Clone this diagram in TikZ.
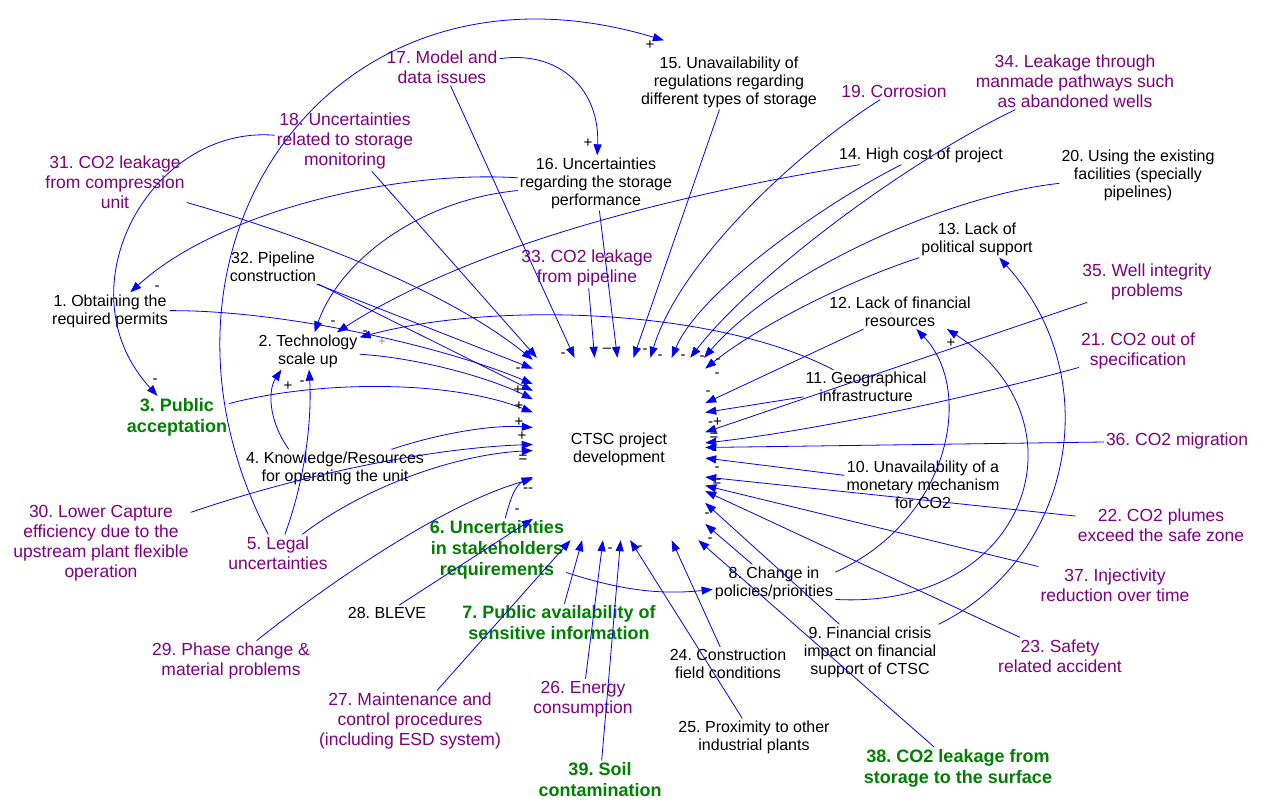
\documentclass[tikz,border=0pt]{standalone}
\usepackage{fontspec}
\setmainfont{Liberation Sans}
\frenchspacing
\usetikzlibrary{arrows.meta}
\definecolor{vpurple}{RGB}{128,0,128}
\definecolor{vgreen}{RGB}{0,128,0}
\tikzset{
  blk/.style={align=center,inner sep=2pt,font=\fontsize{16}{18}\selectfont},
  pur/.style={align=center,inner sep=2pt,text=vpurple,font=\fontsize{17.5}{20}\selectfont},
  grn/.style={align=center,inner sep=2pt,text=vgreen,font=\fontsize{18}{21}\selectfont\bfseries},
  sgn/.style={inner sep=0pt,font=\fontsize{15}{15}\selectfont},
  lnk/.style={draw=blue,line width=0.8pt,->},
  >={Triangle[length=11pt,width=8pt]}
}
\begin{document}
\begin{tikzpicture}[x=1pt,y=-1pt]
\useasboundingbox (0,0) rectangle (1263,802);

% core variable
\node[blk,minimum width=172pt,minimum height=182pt] (ctr) at (619,449) {CTSC project\\development};

% factors
\node[blk] (n1) at (110,311) {1. Obtaining the\\required permits};
\node[blk] (n2) at (308,351) {2. Technology\\scale up};
\node[grn] (n3) at (177,417) {3. Public\\acceptation};
\node[blk] (n4) at (335,468) {4. Knowledge/Resources\\for operating the unit};
\node[pur] (n5) at (278,553) {5. Legal\\uncertainties};
\node[grn] (n6) at (497,550) {6. Uncertainties\\in stakeholders\\requirements};
\node[grn] (n7) at (559,623) {7. Public availability of\\sensitive information};
\node[blk] (n8) at (774,583) {8. Change in\\policies/priorities};
\node[blk] (n9) at (870,652) {9. Financial crisis\\impact on financial\\support of CTSC};
\node[blk] (n10) at (923,485) {10. Unavailability of a\\monetary mechanism\\for CO2};
\node[blk] (n11) at (866,387) {11. Geographical\\infrastructure};
\node[blk] (n12) at (900,312) {12. Lack of financial\\resources};
\node[blk] (n13) at (977,239) {13. Lack of\\political support};
\node[blk] (n14) at (921,155) {14. High cost of project};
\node[blk] (n15) at (729,82) {15. Unavailability of\\regulations regarding\\different types of storage};
\node[blk] (n16) at (596,183) {16. Uncertainties\\regarding the storage\\performance};
\node[pur] (n17) at (442,67) {17. Model and\\data issues};
\node[pur] (n18) at (345,141) {18. Uncertainties\\related to storage\\monitoring};
\node[pur] (n19) at (894,91) {19. Corrosion};
\node[blk] (n20) at (1138,175) {20. Using the existing\\facilities (specially\\pipelines)};
\node[pur] (n21) at (1138,351) {21. CO2 out of\\specification};
\node[pur] (n22) at (1161,525) {22. CO2 plumes\\exceed the safe zone};
\node[pur] (n23) at (1060,656) {23. Safety\\related accident};
\node[blk] (n24) at (728,664) {24. Construction\\field conditions};
\node[blk] (n25) at (754,737) {25. Proximity to other\\industrial plants};
\node[pur] (n26) at (583,699) {26. Energy\\consumption};
\node[pur] (n27) at (410,721) {27. Maintenance and\\control procedures\\(including ESD system)};
\node[blk] (n28) at (387,613) {28. BLEVE};
\node[pur] (n29) at (231,661) {29. Phase change \&\\material problems};
\node[pur] (n30) at (101,543) {30. Lower Capture\\efficiency due to the\\upstream plant flexible\\operation};
\node[pur] (n31) at (115,182) {31. CO2 leakage\\from compression\\unit};
\node[blk] (n32) at (273,267) {32. Pipeline\\construction};
\node[pur] (n33) at (587,268) {33. CO2 leakage\\from pipeline};
\node[pur] (n34) at (1075,81) {34. Leakage through\\manmade pathways such\\as abandoned wells};
\node[pur] (n35) at (1147,282) {35. Well integrity\\problems};
\node[pur] (n36) at (1177,441) {36. CO2 migration};
\node[pur] (n37) at (1115,585) {37. Injectivity\\reduction over time};
\node[grn] (n38) at (958,768) {38. CO2 leakage from\\storage to the surface};
\node[grn] (n39) at (600,780) {39. Soil\\contamination};

% straight links into the core
\foreach \s/\a in {n18/132,n17/116,n33/105,n16/91,n15/81,n12/28,n11/23,n35/11,n36/1,n10/-6,n22/-18,n37/-23,n23/-26,n9/-32,n8/-41,n38/-49,n24/-60,n25/-83,n39/-89,n26/-100,n7/-112,n27/-118,n28/219} {
  \draw[lnk] (\s) -- (ctr.\a);
}
\draw[lnk] (n32) -- (ctr.137);
\draw[lnk] (n32.south east) -- (ctr.146);

% curved links into the core
\draw[lnk] (n19) .. controls (800,150) and (680,260) .. (ctr.71);
\draw[lnk] (n14) .. controls (830,200) and (700,290) .. (ctr.60);
\draw[lnk] (n34) .. controls (900,165) and (750,280) .. (ctr.52);
\draw[lnk] (n20) .. controls (950,195) and (780,270) .. (ctr.47);
\draw[lnk] (n13) .. controls (850,280) and (760,325) .. (ctr.43);
\draw[lnk] (n21) .. controls (980,395) and (820,430) .. (ctr.4);
\draw[lnk] (n31) .. controls (290,232) and (440,285) .. (ctr.134);
\draw[lnk] (n1) .. controls (280,310) and (440,345) .. (ctr.143);
\draw[lnk] (n2) .. controls (420,358) and (490,378) .. (ctr.150);
\draw[lnk] (n3) .. controls (320,380) and (450,380) .. (ctr.157);
\draw[lnk] (n4) .. controls (450,430) and (500,425) .. (ctr.166);
\draw[lnk] (n30) .. controls (300,475) and (430,448) .. (ctr.177);
\draw[lnk] (n5) .. controls (360,490) and (450,455) .. (ctr.181);
\draw[lnk] (n29) .. controls (320,590) and (440,505) .. (ctr.199);
\draw[lnk] (n6) .. controls (510,500) and (515,485) .. (ctr.198);

% links between factors
\draw[lnk] (n16) .. controls (400,170) and (220,210) .. (n1);
\draw[lnk] (n16) .. controls (420,200) and (340,260) .. (n2);
\draw[lnk] (n14) .. controls (700,190) and (480,240) .. (n2);
\draw[lnk] (n11) .. controls (720,310) and (500,300) .. (n2);
\draw[lnk] (n4.158) .. controls (268,420) and (268,390) .. (n2.-145);
\draw[lnk] (n5) .. controls (305,480) and (312,420) .. (n2);
\draw[lnk] (n18) .. controls (150,125) and (60,290) .. (n3);
\draw[lnk] (n17) .. controls (560,50) and (600,90) .. (n16);
\draw[lnk] (n5) .. controls (120,250) and (330,-60) .. ([xshift=25pt,yshift=14pt]n15.north west);
\draw[lnk] (n6) .. controls (620,590) and (660,595) .. (n8);
\draw[lnk] (n8.10) .. controls (950,520) and (975,390) .. (n12);
\draw[lnk] (n8.-15) .. controls (1030,610) and (1090,420) .. (n12.-20);
\draw[lnk] (n9.north east) .. controls (1070,560) and (1110,380) .. (n13.-40);

% polarity signs
\foreach \x/\y/\t [count=\i] in {563/355/-,607/350/\textendash,645/351/-,660/357/-,683/357/-,702/358/-,718/361/-,717/375/-,
  518/370/-,518/390/+,519/406/+,519/422/+,522/436/+,523/459/=,528/490/-{}-,517/511/-,
  708/393/-,715/422/-+,714/437/=,714/452/-,717/469/-,717/483/=,707/515/-,710/540/-,
  610/550/-,640/548/-,157/288/-,155/381/-,333/323/-,365/333/-,288/386/+,302/383/-,
  650/45/+,588/143/+,951/343/+} {
  \node[sgn] (s\i) at (\x,\y) {\t};
}
\node[sgn,text=gray,font=\fontsize{12}{12}\selectfont] (sg) at (382,342) {+};
\end{tikzpicture}
\end{document}
